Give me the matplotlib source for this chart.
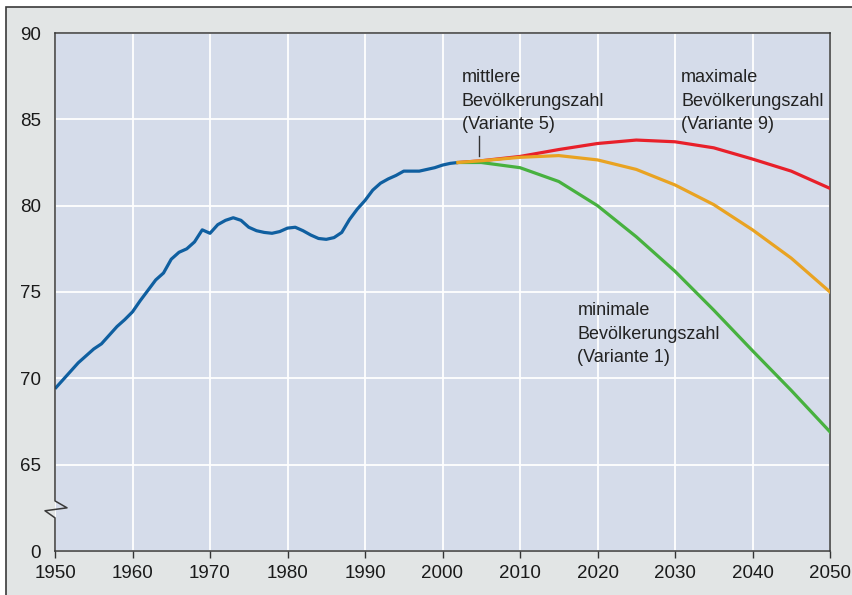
import matplotlib.pyplot as plt
from matplotlib.patches import Rectangle

# Bevoelkerung in Deutschland (Mio.)
years_hist = list(range(1950, 2003))
pop_hist = [69.4, 69.9, 70.4, 70.9, 71.3, 71.7, 72.0, 72.5, 73.0, 73.4,
            73.85, 74.5, 75.1, 75.7, 76.1, 76.9, 77.3, 77.5, 77.9, 78.6,
            78.4, 78.9, 79.15, 79.3, 79.15, 78.75, 78.55, 78.45, 78.4, 78.5,
            78.7, 78.75, 78.55, 78.3, 78.1, 78.05, 78.15, 78.45, 79.2, 79.8,
            80.3, 80.9, 81.3, 81.55, 81.75, 82.0, 82.0, 82.0, 82.1, 82.2,
            82.35, 82.45, 82.5]

years_proj = [2002, 2005, 2010, 2015, 2020, 2025, 2030, 2035, 2040, 2045, 2050]
pop_max = [82.5, 82.6, 82.85, 83.25, 83.6, 83.8, 83.7, 83.35, 82.7, 82.0, 81.0]
pop_mid = [82.5, 82.6, 82.8, 82.9, 82.65, 82.1, 81.2, 80.06, 78.6, 76.96, 75.0]
pop_min = [82.5, 82.5, 82.2, 81.4, 80.0, 78.2, 76.2, 73.95, 71.6, 69.3, 66.9]

y_ticks = [60, 65, 70, 75, 80, 85, 90]
y_labels = ["0", "65", "70", "75", "80", "85", "90"]
x_ticks = list(range(1950, 2051, 10))

plt.rcParams["font.family"] = ["Liberation Sans", "DejaVu Sans"]

fig = plt.figure(figsize=(8.52, 5.95), dpi=100, facecolor="white")
fig.patches.append(Rectangle((6 / 852, -0.1), 1.2, 1.1 - 7 / 595,
                             transform=fig.transFigure, facecolor="#e2e5e5",
                             edgecolor="#3a3a3a", linewidth=1.2, zorder=-10))

ax = fig.add_axes([55 / 852, 44 / 595, 775 / 852, 518 / 595])
ax.set_facecolor("#d5dcea")

ax.plot(years_hist, pop_hist, color="#0f5fa0", lw=2.3, solid_capstyle="butt", zorder=3)
ax.plot(years_proj, pop_max, color="#e8202a", lw=2.3, zorder=3)
ax.plot(years_proj, pop_min, color="#47b13f", lw=2.3, zorder=3)
ax.plot(years_proj, pop_mid, color="#e9a322", lw=2.3, zorder=4)

ax.set_xlim(1950, 2050)
ax.set_ylim(60, 90)
ax.set_xticks(x_ticks)
ax.set_yticks(y_ticks)
ax.set_yticklabels(y_labels)
ax.grid(True, color="white", lw=1.3)
ax.set_axisbelow(True)
ax.tick_params(axis="x", length=5, width=1, color="#333333", labelsize=13.5,
               pad=5, labelcolor="#1a1a1a")
ax.tick_params(axis="y", length=0, labelsize=13.5, pad=10, labelcolor="#1a1a1a")

for side in ["top", "right", "bottom"]:
    ax.spines[side].set_color("#3a3a3a")
    ax.spines[side].set_linewidth(1.1)
ax.spines["left"].set_visible(False)

# linke Achse mit Bruchzeichen
tr = ax.get_yaxis_transform()
ax.plot([0, 0, 0.0155, -0.0129, 0, 0], [90, 62.9, 62.5, 62.33, 61.92, 60],
        transform=tr, color="#3a3a3a", lw=1.1, clip_on=False, zorder=5)

txt = dict(fontsize=13, color="#222222", va="top", ha="left", linespacing=1.5)
ax.text(2002.5, 87.9, "mittlere\nBevölkerungszahl\n(Variante 5)", **txt)
ax.text(2030.8, 87.9, "maximale\nBevölkerungszahl\n(Variante 9)", **txt)
ax.text(2017.4, 74.4, "minimale\nBevölkerungszahl\n(Variante 1)", **txt)
ax.plot([2004.7, 2004.7], [84.03, 82.87], color="#333333", lw=1, zorder=5)

fig.savefig("out.png", dpi=100, facecolor=fig.get_facecolor())
